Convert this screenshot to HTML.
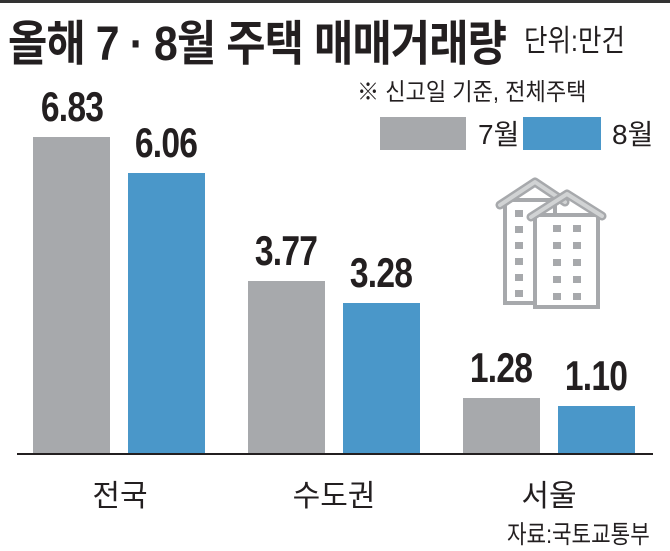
<!DOCTYPE html>
<html><head><meta charset="utf-8"><style>
body{margin:0;width:670px;height:549px;background:#fff;overflow:hidden;position:relative;font-family:"Liberation Sans","Noto Sans CJK KR",sans-serif;color:#231f20}
.a{position:absolute;white-space:nowrap}
.bar{position:absolute}
.g{background:#a7a9ac}.b{background:#4a97c9}
.v{position:absolute;font-weight:bold;font-size:42px;transform:scaleX(0.8);width:120px;text-align:center;letter-spacing:-1px}
.c{position:absolute;font-size:30px;width:160px;text-align:center}
</style></head><body>
<div class="a" style="left:0;top:0;width:670px;height:3px;background:#333"></div>
<div class="a" style="left:8px;top:4px;font-size:48px;font-weight:bold;transform:scaleX(0.89);transform-origin:left top;letter-spacing:-1px">올해 7 · 8월 주택 매매거래량</div>
<div class="a" style="left:524px;top:16px;font-size:30px;transform:scaleX(0.85);transform-origin:left top">단위:만건</div>
<div class="a" style="left:357px;top:72px;font-size:24px;transform:scaleX(0.92);transform-origin:left top">※ 신고일 기준, 전체주택</div>
<div class="bar g" style="left:380px;top:117px;width:86px;height:33px"></div>
<div class="a" style="left:478px;top:113px;font-size:28px">7월</div>
<div class="bar b" style="left:523px;top:117px;width:78px;height:33px"></div>
<div class="a" style="left:612px;top:113px;font-size:28px">8월</div>
<svg class="a" style="left:495px;top:170px" width="115" height="140" viewBox="0 0 115 140">
<rect x="10" y="30" width="50" height="103" fill="#fff" stroke="#a7a9ac" stroke-width="4"/>
<polyline points="5,35 40,12 70,32" fill="none" stroke="#a7a9ac" stroke-width="9" stroke-linejoin="round" stroke-linecap="round"/>
<polyline points="5,35 40,12 70,32" fill="none" stroke="#d1d3d4" stroke-width="4" stroke-linejoin="round" stroke-linecap="round"/>
<g fill="#a7a9ac"><rect x="20" y="40" width="8" height="7"/><rect x="20" y="56" width="8" height="7"/><rect x="20" y="72" width="8" height="7"/><rect x="20" y="88" width="8" height="7"/><rect x="20" y="104" width="8" height="7"/><rect x="20" y="120" width="8" height="7"/></g>
<rect x="40" y="45" width="63" height="92" fill="#fff" stroke="#a7a9ac" stroke-width="4"/>
<polyline points="36,47 72,24 107,46" fill="none" stroke="#a7a9ac" stroke-width="9" stroke-linejoin="round" stroke-linecap="round"/>
<polyline points="36,47 72,24 107,46" fill="none" stroke="#d1d3d4" stroke-width="4" stroke-linejoin="round" stroke-linecap="round"/>
<g fill="#a7a9ac">
<rect x="58" y="55" width="8" height="7"/><rect x="78" y="55" width="8" height="7"/>
<rect x="58" y="72" width="8" height="7"/><rect x="78" y="72" width="8" height="7"/>
<rect x="58" y="89" width="8" height="7"/><rect x="78" y="89" width="8" height="7"/>
<rect x="58" y="106" width="8" height="7"/><rect x="78" y="106" width="8" height="7"/>
<rect x="58" y="123" width="8" height="7"/><rect x="78" y="123" width="8" height="7"/>
</g></svg>
<div class="bar g" style="left:33px;top:137px;width:77px;height:317px"></div>
<div class="bar b" style="left:128px;top:173px;width:77px;height:281px"></div>
<div class="bar g" style="left:248px;top:281px;width:77px;height:173px"></div>
<div class="bar b" style="left:343px;top:303px;width:77px;height:151px"></div>
<div class="bar g" style="left:463px;top:398px;width:77px;height:56px"></div>
<div class="bar b" style="left:558px;top:406px;width:77px;height:48px"></div>
<div class="a" style="left:17px;top:453px;width:636px;height:2px;background:#231f20"></div>
<div class="v" style="left:12px;top:83px">6.83</div>
<div class="v" style="left:106px;top:119px">6.06</div>
<div class="v" style="left:226px;top:227px">3.77</div>
<div class="v" style="left:321px;top:249px">3.28</div>
<div class="v" style="left:441px;top:344px">1.28</div>
<div class="v" style="left:536px;top:352px">1.10</div>
<div class="c" style="left:40px;top:471px">전국</div>
<div class="c" style="left:254px;top:471px">수도권</div>
<div class="c" style="left:469px;top:471px">서울</div>
<div class="a" style="left:507px;top:515px;font-size:25px;transform:scaleX(0.85);transform-origin:left top">자료:국토교통부</div>
</body></html>
